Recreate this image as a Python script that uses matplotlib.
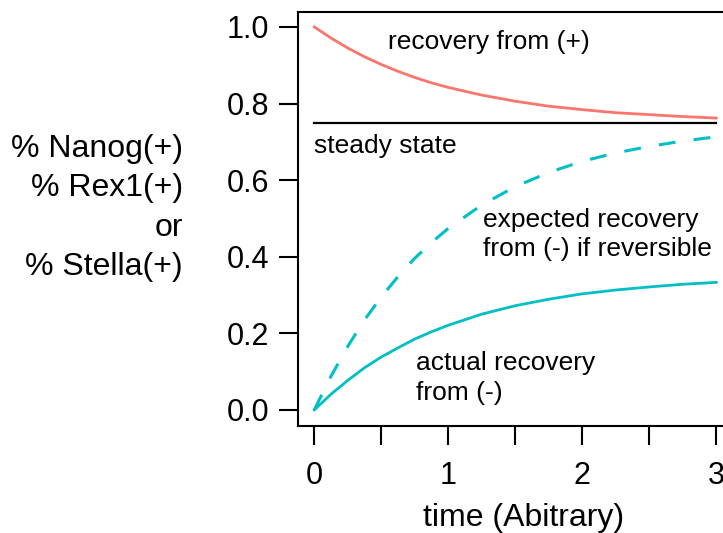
import matplotlib
matplotlib.use("Agg")
import matplotlib.pyplot as plt

plt.rcParams['font.family'] = ['Liberation Sans', 'DejaVu Sans']

# values (time in arbitrary units)
time = [0.0, 0.125, 0.25, 0.375, 0.5, 0.625, 0.75, 0.875, 1.0, 1.25, 1.5, 1.75,
        2.0, 2.25, 2.5, 2.75, 3.0]
recovery_plus = [1.00, 0.971, 0.945, 0.922, 0.902, 0.884, 0.868, 0.854, 0.842,
                 0.822, 0.806, 0.793, 0.784, 0.776, 0.771, 0.766, 0.762]
expected_minus = [0.0, 0.088, 0.166, 0.235, 0.295, 0.348, 0.396, 0.437, 0.474,
                  0.535, 0.583, 0.620, 0.649, 0.671, 0.688, 0.702, 0.713]
actual_minus = [0.0, 0.041, 0.077, 0.110, 0.138, 0.162, 0.185, 0.204, 0.221,
                0.250, 0.272, 0.289, 0.303, 0.313, 0.321, 0.328, 0.333]
steady_state = 0.75

xticks = [0, 0.5, 1, 1.5, 2, 2.5, 3]
xticklabels = ['0', '', '1', '', '2', '', '3']
yticks = [0.0, 0.2, 0.4, 0.6, 0.8, 1.0]

red = '#F8766D'
cyan = '#00BFC4'

fig = plt.figure(figsize=(7.23, 5.33), dpi=100)
ax = fig.add_axes([0.4126, 0.2008, 0.5966, 0.7767])

ax.plot(time, recovery_plus, color=red, lw=2)
ax.plot([time[0], time[-1]], [steady_state, steady_state], color='black', lw=1.6)
ax.plot(time, expected_minus, color=cyan, lw=2.2, dashes=(5.5, 6))
ax.plot(time, actual_minus, color=cyan, lw=2)

ax.set_xlim(-0.119, 3.1)
ax.set_ylim(-0.042, 1.039)
ax.set_xticks(xticks)
ax.set_xticklabels(xticklabels)
ax.set_yticks(yticks)
ax.set_yticklabels([f'{v:.1f}' for v in yticks])
ax.tick_params(direction='out', length=14, width=1.5, labelsize=22)
ax.tick_params(axis='x', pad=11)
ax.tick_params(axis='y', pad=7)
for s in ax.spines.values():
    s.set_linewidth(1.5)

txt = dict(fontsize=19, ha='left', va='center', linespacing=1.3)
ax.text(0.55, 0.961, 'recovery from (+)', **txt)
ax.text(0.0, 0.689, 'steady state', **txt)
ax.text(1.26, 0.458, 'expected recovery\nfrom (-) if reversible', **txt)
ax.text(0.76, 0.084, 'actual recovery\nfrom (-)', **txt)

fig.text(183 / 723, 1 - 208 / 533, '% Nanog(+)\n% Rex1(+)\nor\n% Stella(+)',
         ha='right', va='center', multialignment='right', fontsize=23,
         linespacing=1.4)
fig.text(524 / 723, 1 - 518 / 533, 'time (Abitrary)', ha='center', va='center',
         fontsize=23)

fig.savefig('out.png', dpi=100)
